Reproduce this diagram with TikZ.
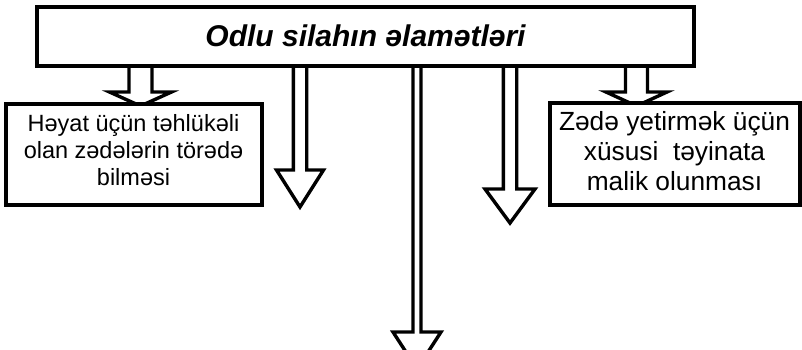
\documentclass[tikz,border=0pt]{standalone}
\usepackage{fontspec}
\setmainfont{Liberation Sans}
\usetikzlibrary{calc, backgrounds}
\tikzset{
    caja/.style={draw, fill=white, inner sep=0pt, line width=4pt, align=center},
    flecha/.style n args={3}{line width=3.4pt, to path={
        ($(\tikztostart)+(-#1,0)$) -- ($(\tikztotarget)+(-#1,-#3)$) -- ($(\tikztotarget)+(-#2,-#3)$) -- (\tikztotarget)
        -- ($(\tikztotarget)+(#2,-#3)$) -- ($(\tikztotarget)+(#1,-#3)$) -- ($(\tikztostart)+(#1,0)$)}},
}

\begin{document}
\begin{tikzpicture}[x=1pt, y=-1pt]
\useasboundingbox (0,0) rectangle (802,349);
% Title box
\node[caja, minimum width=657pt, minimum height=58.5pt, font=\fontsize{30}{34}\selectfont\bfseries\itshape] (titulo) at (365.5,36.25) {Odlu silahın əlamətləri};
% Side boxes
\node[caja, minimum width=256pt, minimum height=100.7pt, text depth=8pt, font=\fontsize{23.5}{27}\selectfont] (vida) at (133.5,154.3) {Həyat üçün təhlükəli\\olan zədələrin törədə\\bilməsi};
\node[caja, minimum width=250pt, minimum height=101.7pt, text depth=7pt, font=\fontsize{26.3}{30}\selectfont] (destino) at (674.5,154) {Zədə yetirmək üçün\\xüsusi~ təyinata\\malik olunması};
% Arrow tips
\coordinate (p1) at (140.5,106);
\coordinate (p2) at (300,207);
\coordinate (p3) at (417,369);
\coordinate (p4) at (510,223);
\coordinate (p5) at (636.5,106);
% Hollow arrows
\begin{scope}[on background layer]
\draw[flecha={11.5}{31}{14}] (titulo.south -| p1) to (p1);
\draw[flecha={6.7}{23.5}{37}] (titulo.south -| p2) to (p2);
\draw[flecha={4}{24}{37}] (titulo.south -| p3) to (p3);
\draw[flecha={6.7}{25}{34}] (titulo.south -| p4) to (p4);
\draw[flecha={11}{30.5}{14}] (titulo.south -| p5) to (p5);
\end{scope}
\end{tikzpicture}
\end{document}
